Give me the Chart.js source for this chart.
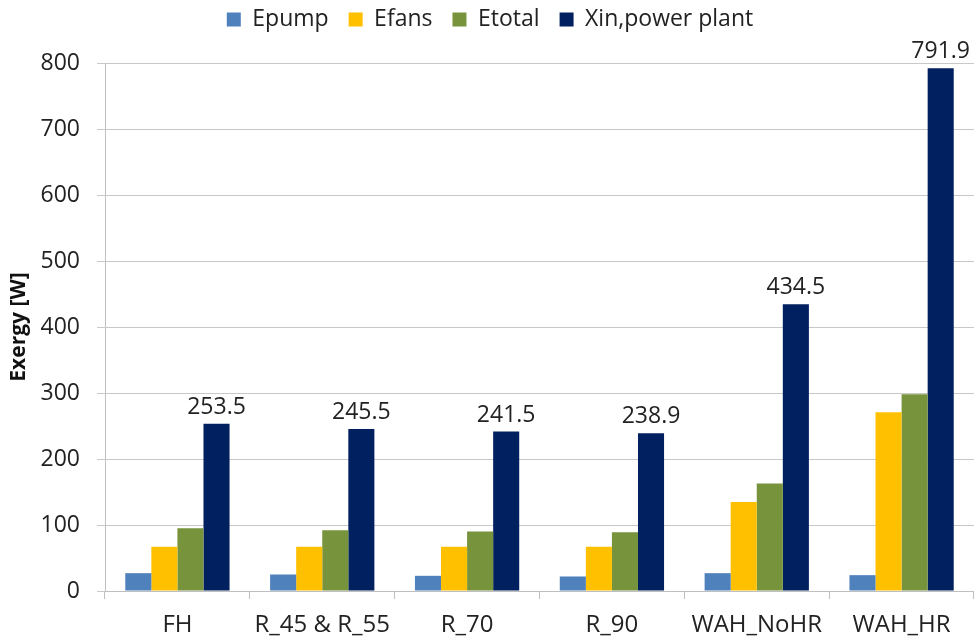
<!DOCTYPE html>
<html>
<head>
<meta charset="utf-8">
<script src="https://cdn.jsdelivr.net/npm/chart.js@4.4.1/dist/chart.umd.min.js"></script>
<style>
  html, body { margin: 0; padding: 0; background: #fff; }
  #wrap { width: 974px; height: 638px; }
</style>
</head>
<body>
<div id="wrap"><canvas id="myChart"></canvas></div>
<script>
const categories = ['FH', 'R_45 & R_55', 'R_70', 'R_90', 'WAH_NoHR', 'WAH_HR'];
const epump = [27, 25, 23, 22, 27, 24];
const efans = [67, 67, 67, 67, 135, 271];
const etotal = [95, 92, 90, 89, 163, 298];
const xinPowerPlant = [253.5, 245.5, 241.5, 238.9, 434.5, 791.9];

const seriesNames = ['Epump', 'Efans', 'Etotal', 'Xin,power plant'];
const seriesColors = ['#4f81bd', '#ffc000', '#77933c', '#002060'];

const font = "'Open Sans', 'Noto Sans', sans-serif";

// value labels above the dark bars only
const valueLabels = {
    id: 'valueLabels',
    afterDatasetsDraw(chart) {
        const c = chart.ctx;
        const meta = chart.getDatasetMeta(3);
        c.save();
        c.font = '23px ' + font;
        c.fillStyle = '#222';
        c.textAlign = 'center';
        c.textBaseline = 'bottom';
        meta.data.forEach((bar, i) => {
            c.fillText(xinPowerPlant[i].toFixed(1), bar.x, bar.y - 5);
        });
        c.restore();
    }
};

// some extra room under the legend
const legendGap = {
    id: 'legendGap',
    beforeInit(chart) {
        const fit = chart.legend.fit;
        chart.legend.fit = function () {
            fit.call(this);
            this.height += 22;
        };
    }
};

const ctx = document.getElementById('myChart');

const config = {
    type: 'bar',
    data: {
        labels: categories,
        datasets: [epump, efans, etotal, xinPowerPlant].map((d, i) => ({
            label: seriesNames[i],
            data: d,
            backgroundColor: seriesColors[i],
            borderWidth: 0,
            categoryPercentage: 0.72,
            barPercentage: 1.0
        }))
    },
    options: {
        responsive: true,
        maintainAspectRatio: false,
        animation: false,
        layout: {
            padding: { left: 6, right: 0, top: -12, bottom: 0 }
        },
        scales: {
            x: {
                grid: {
                    offset: true,
                    drawOnChartArea: false,
                    color: '#bfbfbf',
                    tickLength: 8
                },
                border: { color: '#bfbfbf' },
                ticks: {
                    font: { family: font, size: 24 },
                    color: '#222',
                    padding: 12
                },
                afterFit: s => { s.height = 47; }
            },
            y: {
                min: 0,
                max: 800,
                ticks: {
                    stepSize: 100,
                    font: { family: font, size: 23 },
                    color: '#222',
                    padding: 17
                },
                grid: {
                    color: '#c8c8c8',
                    tickLength: 8
                },
                border: { color: '#bfbfbf' },
                title: {
                    display: true,
                    text: 'Exergy [W]',
                    font: { family: font, size: 21, weight: 'bold' },
                    color: '#111',
                    padding: 0
                },
                afterFit: s => { s.width = 99; }
            }
        },
        plugins: {
            legend: {
                position: 'top',
                labels: {
                    font: { family: font, size: 23 },
                    color: '#222',
                    boxWidth: 14,
                    boxHeight: 14,
                    padding: 20
                }
            },
            tooltip: { enabled: false }
        }
    },
    plugins: [valueLabels, legendGap]
};

const myChart = new Chart(ctx, config);
</script>
</body>
</html>
